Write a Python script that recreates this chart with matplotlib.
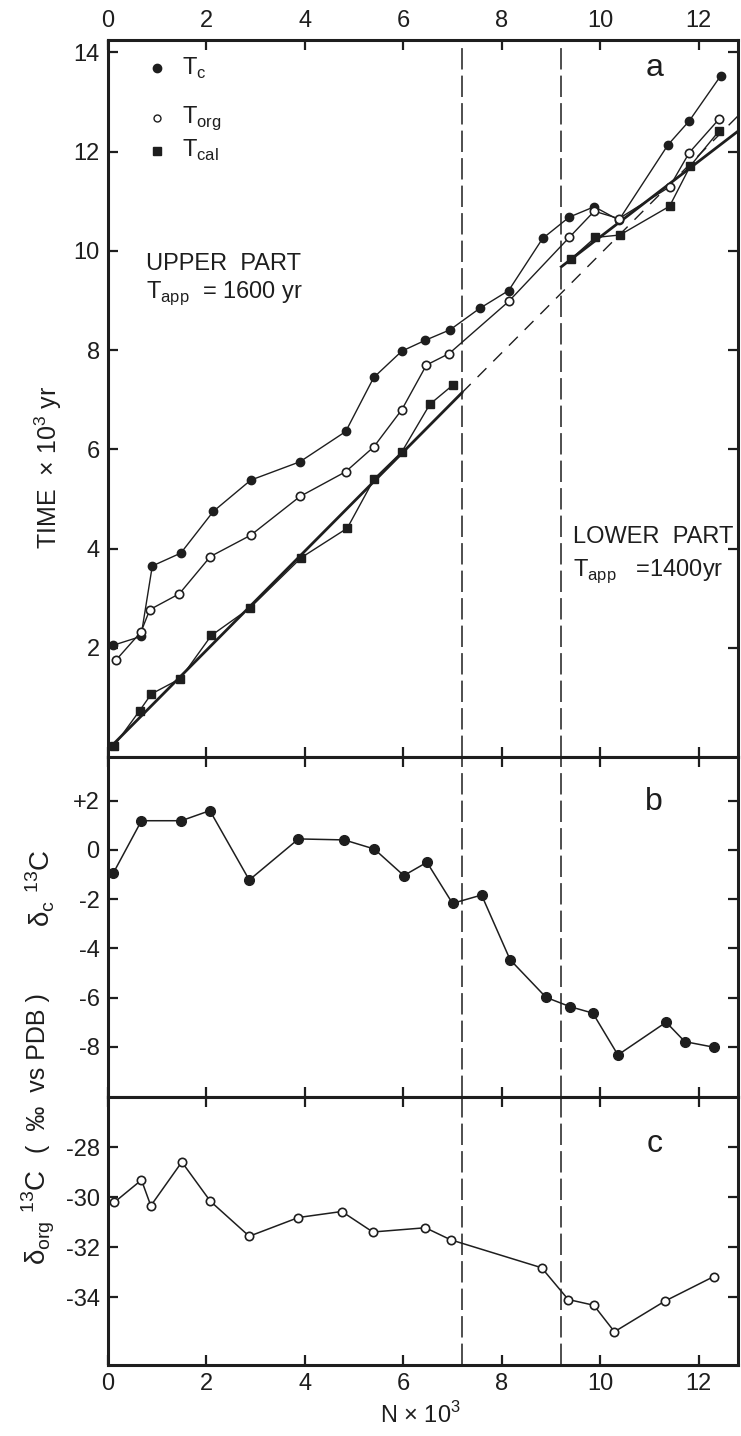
import numpy as np
import matplotlib
matplotlib.use("Agg")
import matplotlib.pyplot as plt

plt.rcParams['font.family'] = ['Liberation Sans', 'DejaVu Sans']
plt.rcParams['mathtext.fontset'] = 'custom'
plt.rcParams['mathtext.rm'] = 'Liberation Sans'
plt.rcParams['axes.unicode_minus'] = False

# --- panel a : time vs N ---
tc_n = [0.1, 0.67, 0.9, 1.48, 2.14, 2.9, 3.9, 4.83, 5.4, 5.97, 6.45, 6.95, 7.55, 8.14, 8.83, 9.37, 9.88, 10.38, 11.38, 11.81, 12.45]
tc_t = [2.05, 2.23, 3.65, 3.91, 4.75, 5.38, 5.75, 6.36, 7.45, 7.98, 8.2, 8.41, 8.84, 9.2, 10.25, 10.68, 10.89, 10.62, 12.14, 12.62, 13.53]

torg_n = [0.16, 0.67, 0.85, 1.45, 2.08, 2.9, 3.9, 4.83, 5.4, 5.97, 6.47, 6.93, 8.14, 9.37, 9.88, 10.38, 11.41, 11.81, 12.41]
torg_t = [1.75, 2.32, 2.77, 3.09, 3.84, 4.27, 5.05, 5.55, 6.05, 6.8, 7.7, 7.93, 8.98, 10.27, 10.8, 10.65, 11.29, 11.98, 12.65]

tcal_up_n = [0.12, 0.64, 0.88, 1.47, 2.1, 2.88, 3.93, 4.86, 5.41, 5.97, 6.54, 7.0]
tcal_up_t = [0.02, 0.73, 1.07, 1.38, 2.25, 2.8, 3.82, 4.41, 5.41, 5.95, 6.91, 7.29]
tcal_lo_n = [9.41, 9.9, 10.4, 11.41, 11.83, 12.41]
tcal_lo_t = [9.84, 10.27, 10.32, 10.9, 11.71, 12.41]

# apparent age fits (end points)
fit_up_n = [0.05, 7.19]
fit_up_t = [0.0, 7.14]
fit_up_ext_n = [7.19, 12.85]
fit_up_ext_t = [7.14, 12.77]
fit_lo_n = [9.21, 12.85]
fit_lo_t = [9.68, 12.45]

# --- panel b : delta13C carbonate ---
dc_n = [0.11, 0.68, 1.49, 2.07, 2.87, 3.87, 4.8, 5.41, 6.01, 6.48, 7.0, 7.59, 8.17, 8.9, 9.39, 9.85, 10.36, 11.34, 11.72, 12.32]
dc_v = [-0.93, 1.19, 1.19, 1.6, -1.22, 0.45, 0.41, 0.04, -1.04, -0.5, -2.17, -1.83, -4.46, -5.99, -6.37, -6.63, -8.33, -7.0, -7.79, -8.02]

# --- panel c : delta13C organic ---
dorg_n = [0.13, 0.68, 0.87, 1.5, 2.08, 2.87, 3.87, 4.75, 5.38, 6.45, 6.96, 8.81, 9.35, 9.87, 10.29, 11.31, 12.31]
dorg_v = [-30.21, -29.32, -30.35, -28.6, -30.17, -31.57, -30.82, -30.58, -31.4, -31.23, -31.71, -32.83, -34.1, -34.33, -35.39, -34.17, -33.18]

boundaries = [7.2, 9.2]
xticks = [0, 2, 4, 6, 8, 10, 12]

W, H = 741, 1436
fig = plt.figure(figsize=(W / 100, H / 100), dpi=100)

def frac(top, bottom):
    return [108 / W, 1 - bottom / H, (738 - 108) / W, (bottom - top) / H]

ax_a = fig.add_axes(frac(40, 757))
ax_b = fig.add_axes(frac(757, 1097))
ax_c = fig.add_axes(frac(1097, 1365))

ink = '#1e1e1e'
for ax in (ax_a, ax_b, ax_c):
    ax.set_xlim(0, 12.8)
    ax.set_xticks(xticks)
    for s in ax.spines.values():
        s.set_linewidth(2.2)
        s.set_color(ink)
    ax.tick_params(direction='in', length=7, width=1.6, top=True, right=True,
                   labelsize=17, colors=ink, pad=6)
    for b in boundaries:
        ax.axvline(b, color=ink, lw=1.1, linestyle=(0, (14, 4)))

# panel a
ax_a.set_ylim(-0.2, 14.25)
ax_a.set_yticks([2, 4, 6, 8, 10, 12, 14])
ax_a.tick_params(axis='x', labeltop=True, labelbottom=False)
ax_a.plot(fit_up_n, fit_up_t, color=ink, lw=2.0)
ax_a.plot(fit_up_ext_n, fit_up_ext_t, color=ink, lw=1.0, linestyle=(0, (9, 7)))
ax_a.plot(fit_lo_n, fit_lo_t, color=ink, lw=2.0)
ax_a.plot(tc_n, tc_t, color=ink, lw=1.0, marker='o', ms=6, mfc=ink, mec=ink)
ax_a.plot(torg_n, torg_t, color=ink, lw=1.0, marker='o', ms=6, mfc='white', mec=ink, mew=1.2)
ax_a.plot(tcal_up_n, tcal_up_t, color=ink, lw=1.0, marker='s', ms=6, mfc=ink, mec=ink)
ax_a.plot(tcal_lo_n, tcal_lo_t, color=ink, lw=1.0, marker='s', ms=6, mfc=ink, mec=ink)

ax_a.plot([1.0], [13.68], marker='o', ms=6, color=ink, ls='none')
ax_a.plot([1.0], [12.68], marker='o', ms=5, mfc='white', mec=ink, ls='none')
ax_a.plot([1.0], [12.02], marker='s', ms=6, color=ink, ls='none')
ax_a.text(1.5, 13.68, r'T$_{\rm c}$', fontsize=17, va='center', color=ink)
ax_a.text(1.5, 12.68, r'T$_{\rm org}$', fontsize=17, va='center', color=ink)
ax_a.text(1.5, 12.02, r'T$_{\rm cal}$', fontsize=17, va='center', color=ink)
ax_a.text(11.1, 13.68, 'a', fontsize=23, va='center', ha='center', color=ink)
ax_a.text(0.78, 9.73, 'UPPER  PART', fontsize=17, va='center', color=ink)
ax_a.text(0.78, 9.14, r'T$_{\rm app}$  = 1600 yr', fontsize=17, va='center', color=ink)
ax_a.text(9.45, 4.23, 'LOWER  PART', fontsize=17, va='center', color=ink)
ax_a.text(9.45, 3.55, r'T$_{\rm app}$   =1400yr', fontsize=17, va='center', color=ink)

# panel b
ax_b.set_ylim(-10.04, 3.78)
ax_b.set_yticks([2, 0, -2, -4, -6, -8])
ax_b.set_yticklabels(['+2', '0', '-2', '-4', '-6', '-8'])
ax_b.tick_params(axis='x', labelbottom=False)
ax_b.plot(dc_n, dc_v, color=ink, lw=1.1, marker='o', ms=7, mfc=ink, mec=ink)
ax_b.text(11.1, 1.94, 'b', fontsize=23, va='center', ha='center', color=ink)

# panel c
ax_c.set_ylim(-36.72, -26.0)
ax_c.set_yticks([-28, -30, -32, -34])
ax_c.plot(dorg_n, dorg_v, color=ink, lw=1.1, marker='o', ms=6, mfc='white', mec=ink, mew=1.2)
ax_c.text(11.1, -27.9, 'c', fontsize=23, va='center', ha='center', color=ink)

# axis titles
fig.text(48 / W, 1 - 467 / H, r'TIME  $\times$ 10$^{3}$ yr', rotation=90, fontsize=18,
         ha='center', va='center', color=ink)
fig.text(40 / W, 1 - 888 / H, '\u03b4$_{\\rm c}$ $^{13}$C', rotation=90, fontsize=20,
         ha='center', va='center', color=ink)
fig.text(38 / W, 1 - 1073 / H, '(  \u2030  vs PDB )', rotation=90, fontsize=18,
         ha='center', va='center', color=ink)
fig.text(38 / W, 1 - 1217 / H, '\u03b4$_{\\rm org}$ $^{13}$C', rotation=90, fontsize=20,
         ha='center', va='center', color=ink)
fig.text(420 / W, 1 - 1415 / H, r'N $\times$ 10$^{3}$', fontsize=17,
         ha='center', va='center', color=ink)

fig.savefig('out.png', dpi=100, facecolor='white')
